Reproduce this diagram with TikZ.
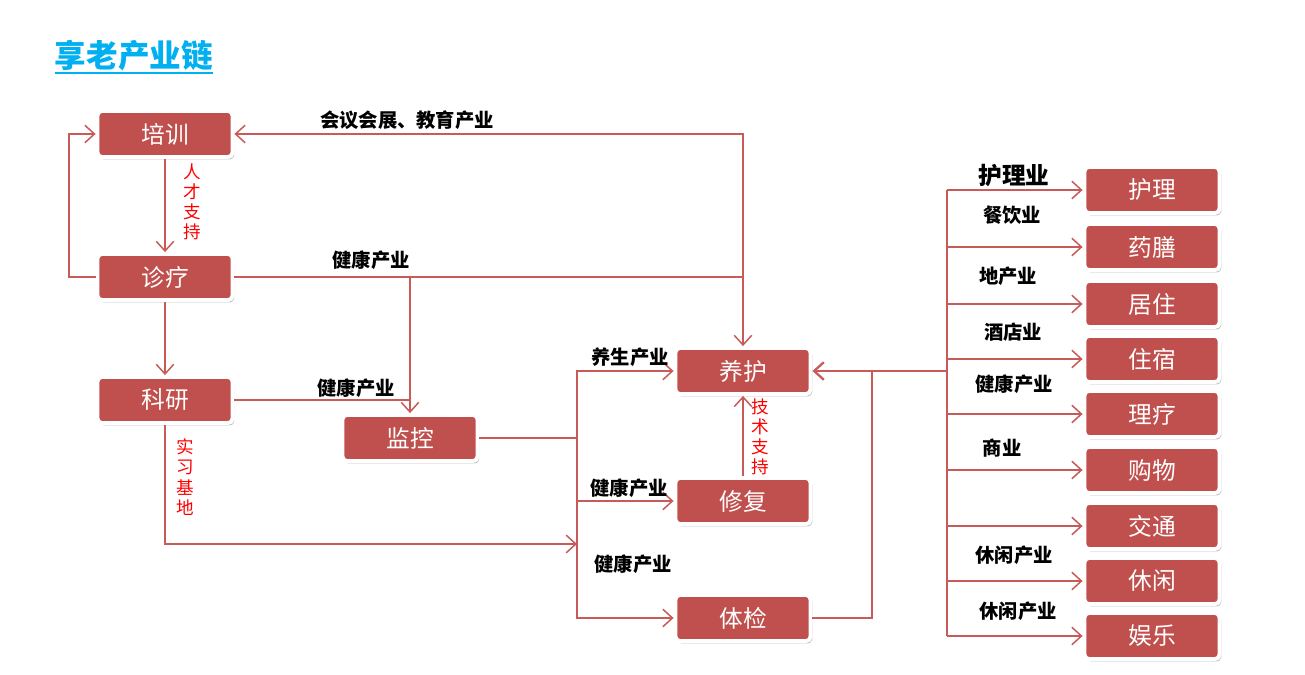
\documentclass[tikz,border=0pt]{standalone}
\usepackage{fontspec}
\setmainfont{Noto Sans CJK SC}
\usetikzlibrary{arrows.meta,shadows}

\definecolor{boxred}{HTML}{C0504D}
\definecolor{linkred}{HTML}{C65B58}
\definecolor{titleblue}{HTML}{00B0F0}

\tikzset{
  stage/.style={draw=white, line width=2.2pt, fill=boxred, rounded corners=2.5pt,
    minimum width=2.7cm, minimum height=0.92cm, text=white,
    font=\fontsize{13.5}{16}\selectfont,
    drop shadow={shadow xshift=1pt, shadow yshift=-1.4pt, opacity=0.35, fill=black!70}},
  line/.style={draw=linkred, line width=0.85pt},
  link/.style={line, -{Straight Barb[length=5.5pt,width=10pt]}},
  ind/.style={font=\bfseries\fontsize{11}{13}\selectfont},
  hint/.style={text=red, align=center, font=\fontsize{10}{11.5}\selectfont}
}

\begin{document}
\begin{tikzpicture}[x=0.02cm, y=-0.02cm]
  \useasboundingbox (0,0) rectangle (1305,675);

  % 标题
  \node[text=titleblue, font=\bfseries\fontsize{18}{20}\selectfont] (title) at (134,56) {享老产业链};
  \draw[titleblue, line width=1.1pt] (55,73) -- (213,73);

  % 左侧三个环节
  \node[stage] (peixun) at (165,134) {培训};
  \node[stage] (zhenliao) at (165,277) {诊疗};
  \node[stage] (keyan) at (165,400) {科研};
  \node[stage] (jiankong) at (410,438) {监控};

  % 中间三个环节
  \node[stage] (yanghu) at (743,371) {养护};
  \node[stage] (xiufu) at (743,501) {修复};
  \node[stage] (tijian) at (743,618) {体检};

  % 右侧一列
  \node[stage] (huli) at (1152,190) {护理};
  \node[stage] (yaoshan) at (1152,247) {药膳};
  \node[stage] (juzhu) at (1152,304) {居住};
  \node[stage] (zhusu) at (1152,359) {住宿};
  \node[stage] (liliao) at (1152,414) {理疗};
  \node[stage] (gouwu) at (1152,470) {购物};
  \node[stage] (jiaotong) at (1152,526) {交通};
  \node[stage] (xiuxian) at (1152,581) {休闲};
  \node[stage] (yule) at (1152,636) {娱乐};

  % 拐点
  \coordinate (loopL) at (69,277);
  \coordinate (shixi) at (165,544);
  \coordinate (busL) at (577,438);
  \coordinate (busM) at (872,371);
  \coordinate (busR) at (947,371);

  % 左侧连线
  \draw[link] (peixun) -- (zhenliao);
  \draw[link] (zhenliao.west) -- (loopL) |- (peixun.west);
  \draw[link] (zhenliao) -- (keyan);
  \draw[line, {Straight Barb[length=5.5pt,width=10pt]}-{Straight Barb[length=5.5pt,width=10pt]}]
    (peixun.east) -| (yanghu.north);
  \draw[line] (zhenliao.east) -- (zhenliao.east -| yanghu.north);
  \draw[link] (zhenliao.east -| jiankong.north) -- (jiankong.north);
  \draw[line] (keyan.east) -- (keyan.east -| jiankong.north);
  \draw[link] (keyan.south) -- (shixi) -- (shixi -| busL);

  % 中间连线
  \draw[line] (jiankong.east) -- (busL);
  \draw[link] (busL) |- (yanghu.west);
  \draw[link] (busL) |- (xiufu.west);
  \draw[link] (busL) |- (tijian.west);
  \draw[link] (xiufu) -- (yanghu);
  \draw[line] (tijian.east) -| (busM);
  \draw[link, line width=1.3pt] (busR) -- (yanghu.east);

  % 右侧连线
  \draw[line] (busR |- huli.west) -- (busR |- yule.west);
  \foreach \n in {huli,yaoshan,juzhu,zhusu,liliao,gouwu,jiaotong,xiuxian,yule}
    \draw[link] (busR |- \n.west) -- (\n.west);

  % 连线标签
  \node[ind] (lbhuizhan) at (407,120) {会议会展、教育产业};
  \node[ind] (lbzhen) at (371,260) {健康产业};
  \node[ind] (lbke) at (356,388) {健康产业};
  \node[ind] (lbyang) at (630,357) {养生产业};
  \node[ind] (lbxiu) at (629,488) {健康产业};
  \node[ind] (lbti) at (633,564) {健康产业};
  \node[hint] (rencai) at (192,202) {人\\才\\支\\持};
  \node[hint] (shixilb) at (185,477) {实\\习\\基\\地};
  \node[hint] (jishu) at (760,437) {技\\术\\支\\持};

  % 右侧行业标签
  \node[ind, font=\bfseries\fontsize{13.5}{15}\selectfont] (lbhuli) at (1014,176) {护理业};
  \node[ind] (lbcan) at (1012,215) {餐饮业};
  \node[ind] (lbdi) at (1008,276) {地产业};
  \node[ind] (lbjiu) at (1013,332) {酒店业};
  \node[ind] (lbjian) at (1014,384) {健康产业};
  \node[ind] (lbshang) at (1002,448) {商业};
  \node[ind] (lbxian1) at (1014,555) {休闲产业};
  \node[ind] (lbxian2) at (1018,611) {休闲产业};
\end{tikzpicture}
\end{document}
